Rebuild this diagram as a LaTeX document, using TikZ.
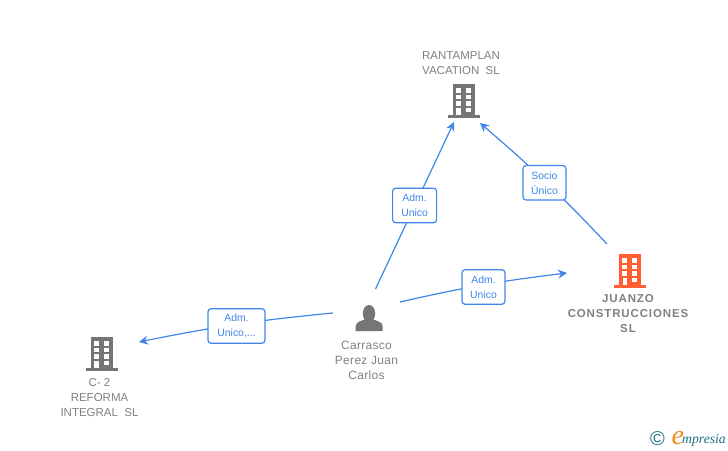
\documentclass[tikz,border=0pt]{standalone}
\usepackage{fontspec}
\setmainfont{Liberation Sans}
\newfontfamily\logofont{Liberation Serif}
\newfontfamily\wideface[LetterSpace=2.5]{Liberation Sans}
\newfontfamily\boldwide[LetterSpace=7.5]{Liberation Sans Bold}
\usetikzlibrary{arrows.meta,backgrounds}
\definecolor{linkblue}{HTML}{3F86E8}
\definecolor{txtgray}{HTML}{808080}
\definecolor{icongray}{HTML}{757575}
\definecolor{iconorange}{HTML}{FF5F33}
\definecolor{logoteal}{HTML}{1F6E85}
\definecolor{logoorange}{HTML}{F08A1D}
\tikzset{
  x=1pt,y=-1pt,
  link/.style={draw=linkblue,line width=1.2pt},
  linkarrow/.style={link,-{Stealth[length=9pt,width=9pt,inset=3pt]}},
  relbox/.style={draw=linkblue,line width=1.2pt,rounded corners=3pt,fill=white,
    minimum height=34.5pt,inner sep=0pt,text=linkblue,font=\fontsize{10.4}{15}\selectfont,align=center},
  company/.style={text=txtgray,font=\fontsize{11.5}{15}\selectfont,align=center,inner sep=0pt},
  pics/building/.style={code={
    \fill[#1] (-11,0) rectangle (11,31);
    \fill[#1] (-16,31) rectangle (16,34);
    \foreach \r in {4,10.5,17.2}{
      \fill[white] (-8,\r) rectangle (-3,\r+4.5);
      \fill[white] (2,\r) rectangle (7,\r+4.5);
    }
    \fill[white] (2,23.5) rectangle (7,28);
    \fill[white] (-7.5,23.5) rectangle (-3,31);
  }}
}
\begin{document}
\begin{tikzpicture}
\useasboundingbox (0,0) rectangle (728,450);

% icons
\pic at (463.5,84) {building=icongray};
\pic at (630,254) {building=iconorange};
\pic at (101.7,337) {building=icongray};
\fill[icongray] (369,313.5) ellipse (6.2 and 8.5);
\fill[icongray] (355.7,331) -- (355.7,326) .. controls (356,321.5) and (362,321) .. (365.5,319)
  -- (372.5,319) .. controls (376,321) and (382.3,321.5) .. (382.7,326) -- (382.7,331) -- cycle;

% texts
\node[company] (rant) at (461,63) {RANTAMPLAN\\VACATION\ \ SL};
\node[company,font=\fontsize{11.5}{15}\boldwide] (juan) at (628,314)
  {JUANZO\\CONSTRUCCIONES\\SL};
\node[company,font=\fontsize{12}{15}\wideface] (carr) at (366.5,360) {Carrasco\\Perez Juan\\Carlos};
\node[company] (cdos) at (99.5,398) {C- 2\\REFORMA\\INTEGRAL\ \ SL};

% relation boxes
\node[relbox,minimum width=44pt] (l1) at (414.6,205.5) {Adm.\\Unico};
\node[relbox,minimum width=43pt] (l2) at (544.5,182.8) {Socio\\Único};
\node[relbox,minimum width=43pt] (l3) at (483.5,287) {Adm.\\Unico};
\node[relbox,minimum width=57pt] (l4) at (236.5,326) {Adm.\\Unico,...};

% connector free ends
\coordinate (s1) at (375.5,289);
\coordinate (e1) at (454,122);
\coordinate (s2) at (607,244);
\coordinate (e2) at (480,123);
\coordinate (s3) at (400,302);
\coordinate (e3) at (567,273);
\coordinate (s4) at (333,313);
\coordinate (e4) at (139,342);

% connectors, passing behind the relation boxes
\begin{scope}[on background layer]
\draw[linkarrow] (s1) -- (e1);
\draw[linkarrow] (s2) to[bend right=3] (e2);
\draw[linkarrow] (s3) to[bend left=3] (e3);
\draw[linkarrow] (s4) to[bend right=3] (e4);
\end{scope}

% logo
\node[inner sep=0pt,text=logoteal,font=\fontsize{20}{20}\selectfont] (copy) at (657.5,438.5) {©};
\node[inner sep=0pt,anchor=base west,text=logoorange,font=\logofont\itshape\fontsize{28}{28}\selectfont] (loge) at (671.5,444) {e};
\node[inner sep=0pt,anchor=base west,text=logoteal,font=\logofont\itshape\fontsize{13.7}{13.7}\selectfont] (logt) at (682,443) {mpresia};
\end{tikzpicture}
\end{document}
